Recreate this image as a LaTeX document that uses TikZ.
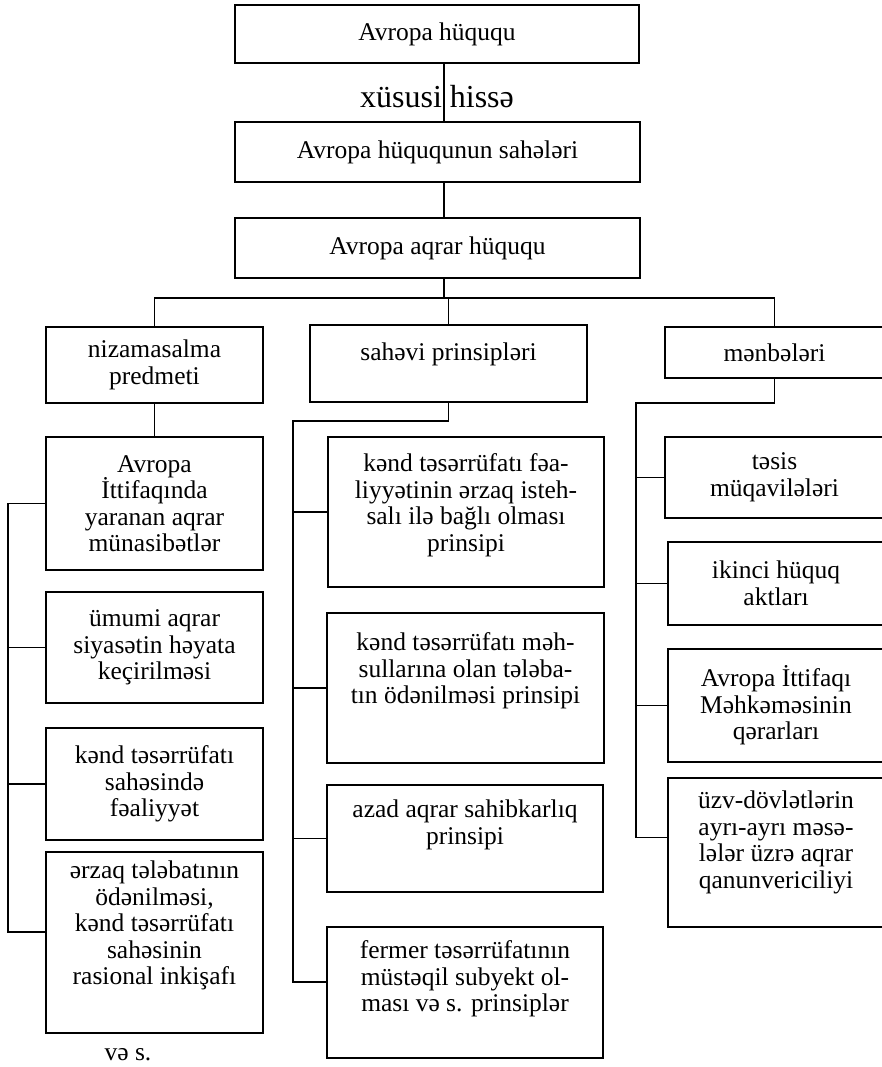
\documentclass[tikz,border=0pt]{standalone}
\usepackage{fontspec}
\setmainfont{Liberation Serif}
\newcommand{\boxfont}{\fontsize{25.5}{26.5}\selectfont}
\newcommand{\toptext}[4]{\parbox[c][#2pt][t]{#1pt}{\vspace*{#3pt}\centering\strut #4}}

\begin{document}
\begin{tikzpicture}[x=1pt, y=-1pt,
        box/.style  = {draw, line width=1.8pt, inner sep=0pt, align=center, font=\boxfont},
        wire/.style = {line width=1.8pt},
        note/.style = {font=\fontsize{32}{34}\selectfont}
    ]
        \path[use as bounding box, fill=white] (0,0) rectangle (882,1067);

        \node[box, minimum width=404, minimum height=58] (law)    at (437,34)    {Avropa hüququ};
        \node[note]                                      (part)   at (437,97)    {xüsusi hissə};
        \node[box, minimum width=405, minimum height=60] (fields) at (437.5,152) {Avropa hüququnun sahələri};
        \node[box, minimum width=405, minimum height=60] (agr)    at (437.5,248) {Avropa aqrar hüququ};
        \coordinate (hub) at (444,298);

        \node[box, minimum width=217, minimum height=76]  (subj) at (154.5,365)   {nizamasalma\\predmeti};
        \node[box, minimum width=217, minimum height=133] (s1)   at (154.5,503.5) {Avropa\\İttifaqında\\yaranan aqrar\\münasibətlər};
        \node[box, minimum width=217, minimum height=111] (s2)   at (154.5,647.5) {ümumi aqrar\\siyasətin həyata\\keçirilməsi};
        \node[box, minimum width=217, minimum height=112] (s3)   at (154.5,784)   {kənd təsərrüfatı\\sahəsində\\fəaliyyət};
        \node[box] (s4) at (154.5,942.5) {\toptext{217}{181}{8}{ərzaq tələbatının\\ödənilməsi,\\kənd təsərrüfatı\\sahəsinin\\rasional inkişafı}};
        \node[font=\boxfont] (etc) at (128,1055) {və s.};

        \node[box] (prin) at (448.5,363.5) {\toptext{277}{77}{17}{sahəvi prinsipləri}};
        \node[box] (p1)   at (466,512)     {\toptext{276}{150}{16}{kənd təsərrüfatı fəa-\\liyyətinin ərzaq isteh-\\salı ilə bağlı olması\\prinsipi}};
        \node[box] (p2)   at (465.5,688)   {\toptext{277}{150}{19}{kənd təsərrüfatı məh-\\sullarına olan tələba-\\tın ödənilməsi prinsipi}};
        \node[box] (p3)   at (465,838.5)   {\toptext{276}{107}{14}{azad aqrar sahibkarlıq\\prinsipi}};
        \node[box] (p4)   at (465,992.5)   {\toptext{276}{131}{13}{fermer təsərrüfatının\\müstəqil subyekt ol-\\ması və s. prinsiplər}};

        \node[box, minimum width=219, minimum height=51]  (src) at (774.5,352.5) {mənbələri};
        \node[box, minimum width=219, minimum height=81]  (r1)  at (774.5,477.5) {təsis\\müqavilələri};
        \node[box, minimum width=216, minimum height=83]  (r2)  at (776,583.5)   {ikinci hüquq\\aktları};
        \node[box, minimum width=216, minimum height=113] (r3)  at (776,705.5)   {Avropa İttifaqı\\Məhkəməsinin\\qərarları};
        \node[box] (r4) at (776,852.5) {\toptext{216}{149}{12}{üzv-dövlətlərin\\ayrı-ayrı məsə-\\lələr üzrə aqrar\\qanunvericiliyi}};

        \draw[wire] (law.south -| hub)    -- (fields.north -| hub);
        \draw[wire] (fields.south -| hub) -- (agr.north -| hub);
        \draw[wire] (agr.south -| hub)    -- (hub);
        \draw[wire] (subj.north) |- (hub) -| (src.north);
        \draw[wire] (hub -| prin.north) -- (prin.north);

        \draw[wire] (subj.south) -- (s1.north);
        \coordinate (lbus) at (8,0);
        \coordinate (s4in) at ([yshift=10.5pt]s4.west);
        \draw[wire] (s1.west) -| (lbus |- s4in) -- (s4in);
        \foreach \n in {s2,s3} \draw[wire] (lbus |- \n.west) -- (\n.west);

        \coordinate (mbus) at (293,0);
        \coordinate (p4in) at ([yshift=10.5pt]p4.west);
        \draw[wire] (prin.south) -- ++(0,18) -| (mbus |- p4in) -- (p4in);
        \foreach \n in {p1,p2,p3} \draw[wire] (mbus |- \n.west) -- (\n.west);

        \coordinate (rbus) at (636,0);
        \coordinate (r4in) at ([yshift=15pt]r4.west);
        \draw[wire] (src.south) -- ++(0,24) -| (rbus |- r4in) -- (r4in);
        \foreach \n in {r1,r2,r3} \draw[wire] (rbus |- \n.west) -- (\n.west);
    \end{tikzpicture}
\end{document}
